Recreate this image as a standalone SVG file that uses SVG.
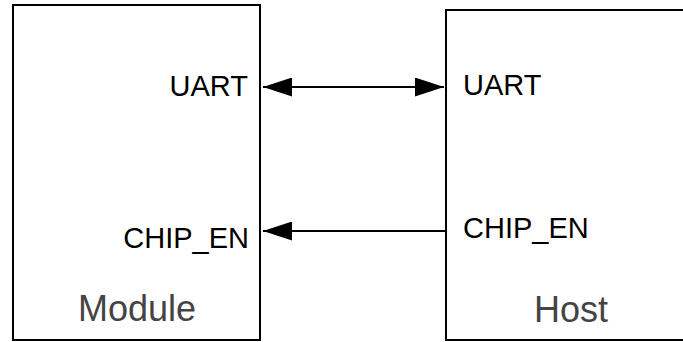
<svg xmlns="http://www.w3.org/2000/svg" width="683" height="342" viewBox="0 0 683 342">
<defs>
<marker id="ah" viewBox="0 0 29 19" refX="29" refY="9.5" markerWidth="29" markerHeight="19" markerUnits="userSpaceOnUse" orient="auto-start-reverse">
<path d="M0,0 L29,9.5 L0,19 Z" fill="#000"/>
</marker>
</defs>
<style>
.box{fill:#fff;stroke:#000;stroke-width:2}
.lbl{font-family:"Liberation Sans",Arial,sans-serif;font-size:29px;fill:#000}
.ttl{font-family:"Liberation Sans",Arial,sans-serif;font-size:36px;fill:#444;text-anchor:middle}
.wire{stroke:#000;stroke-width:2;fill:none}
</style>
<rect width="683" height="342" fill="#fff"/>
<g id="module">
<rect class="box" x="13" y="5" width="247" height="335"/>
<text class="lbl" x="248" y="96" text-anchor="end">UART</text>
<text class="lbl" x="249" y="248" text-anchor="end">CHIP_EN</text>
<text class="ttl" x="137" y="321">Module</text>
</g>
<g id="host">
<rect class="box" x="446" y="10" width="260" height="330"/>
<text class="lbl" x="463" y="95">UART</text>
<text class="lbl" x="463" y="238">CHIP_EN</text>
<text class="ttl" x="571" y="322">Host</text>
</g>
<g id="connectors">
<line class="wire" x1="263" y1="87" x2="444" y2="87" marker-start="url(#ah)" marker-end="url(#ah)"/>
<line class="wire" x1="446" y1="231" x2="263" y2="231" marker-end="url(#ah)"/>
</g>
</svg>
